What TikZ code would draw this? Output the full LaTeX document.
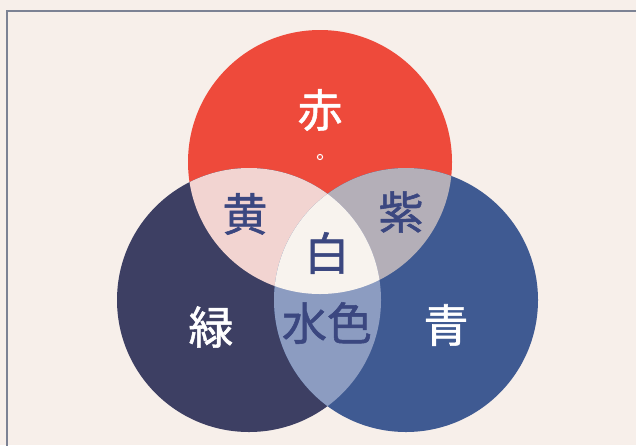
\documentclass[tikz,border=0pt]{standalone}
\usepackage{xcolor}
\usepackage{fontspec}
\newfontfamily\jpfont[FakeBold=1.2]{Noto Sans CJK JP}
\definecolor{paper}{HTML}{F7EFEA}
\definecolor{framegray}{HTML}{7C8294}
\definecolor{redlight}{HTML}{EE4A3B}
\definecolor{greenlight}{HTML}{3D3F63}
\definecolor{bluelight}{HTML}{3F5A92}
\definecolor{yellowmix}{HTML}{F2D4D1}
\definecolor{purplemix}{HTML}{B4AFB8}
\definecolor{cyanmix}{HTML}{8C9CC1}
\definecolor{whitemix}{HTML}{F8F3EE}
\definecolor{inknavy}{HTML}{3B4780}

\begin{document}
\begin{tikzpicture}[
  x=1pt,y=-1pt,
  label/.style={font=\jpfont\fontsize{45}{45}\selectfont,inner sep=0pt},
  onlight/.style={label,text=inknavy},
  ondark/.style={label,text=white}
]
  \useasboundingbox (0,0) rectangle (636,445);
  \fill[paper] (0,0) rectangle (636,445);
  \draw[framegray,line width=1.4pt] (7,450) -- (7,11) -- (640,11);
  % three lights
  \fill[redlight] (320,162) circle (132);
  \fill[greenlight] (249,300) circle (132);
  \fill[bluelight] (406,300) circle (132);
  % two-light mixes
  \begin{scope}
    \clip (320,162) circle (132);
    \fill[yellowmix] (249,300) circle (132);
    \fill[purplemix] (406,300) circle (132);
  \end{scope}
  \begin{scope}
    \clip (249,300) circle (132);
    \fill[cyanmix] (406,300) circle (132);
    \clip (406,300) circle (132);
    \fill[whitemix] (320,162) circle (132);
  \end{scope}
  % labels
  \node[ondark] (red) at (320,110) {赤};
  \draw[white,line width=1pt] (320,157) circle (2.6);
  \node[onlight] (yellow) at (245,214) {黄};
  \node[onlight] (purple) at (401,212) {紫};
  \node[onlight] (white) at (327,253) {白};
  \node[ondark] (green) at (211,327) {緑};
  \node[onlight] (cyan) at (327,323) {水色};
  \node[ondark] (blue) at (446,325) {青};
\end{tikzpicture}
\end{document}
